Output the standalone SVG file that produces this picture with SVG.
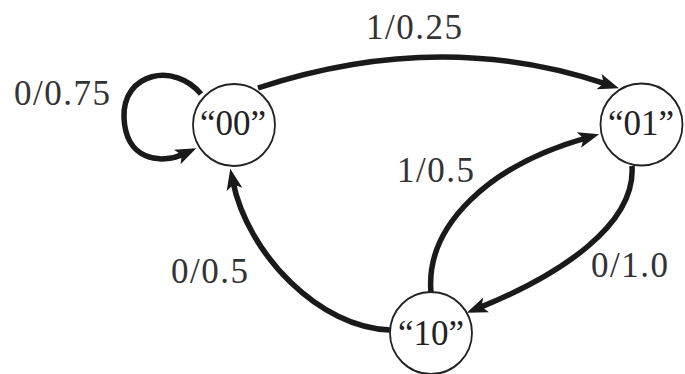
<svg xmlns="http://www.w3.org/2000/svg" width="685" height="374" viewBox="0 0 685 374">
<style>
.node{fill:#fff;stroke:#222;stroke-width:1.8}
.edge{fill:none;stroke:#1a1a1a;stroke-width:5.5}
.lbl{font-family:"Liberation Serif","Times New Roman",serif;font-size:35px;fill:#333;letter-spacing:1.5px}
.nl{font-family:"Liberation Serif","Times New Roman",serif;font-size:35px;fill:#222;text-anchor:middle}
</style>
<defs>
<marker id="ah" markerUnits="userSpaceOnUse" markerWidth="22" markerHeight="18" refX="8" refY="8" orient="auto" viewBox="0 0 22 16">
<path d="M0,0 L21,8 L0,16 L5,8 z" fill="#1a1a1a"/>
</marker>
</defs>
<g id="connectors">
<path class="edge" d="M258,88 Q440,28 606.6,84.2" marker-end="url(#ah)"/>
<path class="edge" d="M201,94 C175,62 122,72 124,118 C126,160 160,165 184.5,153.7" marker-end="url(#ah)"/>
<path class="edge" d="M390,330 C320,328 248,255 232.9,181.6" marker-end="url(#ah)"/>
<path class="edge" d="M431,293 C425,225 490,165 586.6,137.8" marker-end="url(#ah)"/>
<path class="edge" d="M632,166 C636,225 560,275 478.8,307.9" marker-end="url(#ah)"/>
</g>
<g id="n00"><circle class="node" cx="234" cy="125" r="41"/><text class="nl" x="233" y="135">“00”</text></g>
<g id="n01"><circle class="node" cx="641.5" cy="124.5" r="41"/><text class="nl" x="641" y="135">“01”</text></g>
<g id="n10"><circle class="node" cx="431" cy="333" r="41"/><text class="nl" x="431" y="345">“10”</text></g>
<g id="labels">
<text class="lbl" x="366" y="39">1/0.25</text>
<text class="lbl" x="14" y="105">0/0.75</text>
<text class="lbl" x="397" y="182">1/0.5</text>
<text class="lbl" x="171" y="283">0/0.5</text>
<text class="lbl" x="591" y="277">0/1.0</text>
</g>
</svg>
